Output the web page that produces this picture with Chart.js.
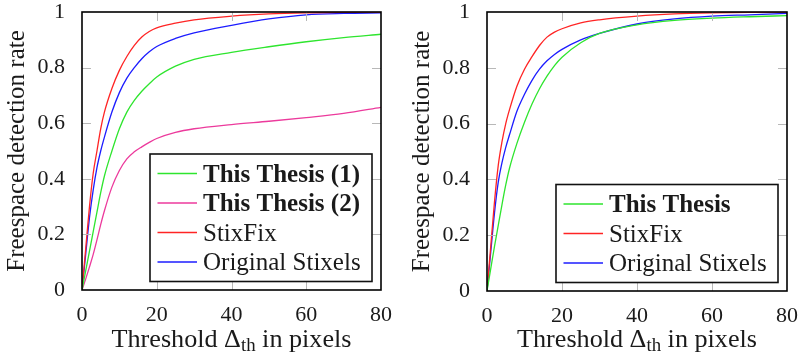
<!DOCTYPE html>
<html><head><meta charset="utf-8">
<script src="https://cdn.jsdelivr.net/npm/chart.js@4.4.1/dist/chart.umd.min.js"></script>
<style>
html,body{margin:0;padding:0;background:#fff;}
#wrap{position:relative;width:799px;height:355px;overflow:hidden;}
canvas{position:absolute;top:0;}
</style></head><body>
<div id="wrap">
<canvas id="c1" width="400" height="355" style="left:0"></canvas>
<canvas id="c2" width="399" height="355" style="left:400px"></canvas>
</div>
<script>
// ---- data ----
const thresholds = [0,1,2,3,4,5,6,8,10,12,14,16,18,20,25,30,40,50,60,70,80];
const xTicks = [0,20,40,60,80];
const yTicks = [0,0.2,0.4,0.6,0.8,1];

const leftThesis1   = [0,0.07,0.14,0.21,0.28,0.35,0.41,0.5,0.58,0.64,0.682,0.715,0.742,0.766,0.805,0.83,0.855,0.875,0.893,0.908,0.92];
const leftThesis2   = [0,0.04,0.083,0.128,0.18,0.235,0.285,0.37,0.43,0.472,0.497,0.515,0.531,0.545,0.567,0.58,0.595,0.607,0.62,0.635,0.657];
const leftStixFix   = [0,0.15,0.3,0.42,0.5,0.58,0.64,0.725,0.79,0.84,0.88,0.91,0.93,0.943,0.96,0.972,0.985,0.993,0.997,0.999,1.0];
const leftOriginal  = [0,0.13,0.26,0.36,0.44,0.5,0.55,0.64,0.71,0.762,0.8,0.832,0.857,0.876,0.905,0.925,0.952,0.975,0.99,0.995,0.997];

const rightThesis   = [0,0.08,0.16,0.235,0.31,0.38,0.44,0.53,0.605,0.67,0.725,0.77,0.808,0.838,0.89,0.923,0.954,0.97,0.978,0.983,0.987];
const rightStixFix  = [0,0.16,0.32,0.45,0.535,0.6,0.65,0.735,0.795,0.84,0.88,0.91,0.928,0.94,0.961,0.972,0.985,0.993,0.997,0.999,1.0];
const rightOriginal = [0,0.14,0.28,0.39,0.46,0.515,0.56,0.645,0.705,0.755,0.795,0.825,0.848,0.866,0.9,0.923,0.957,0.975,0.985,0.99,0.995];

const labelsLeft  = ['This Thesis (1)','This Thesis (2)','StixFix','Original Stixels'];
const labelsRight = ['This Thesis','StixFix','Original Stixels'];

// ---- style ----
const GREEN='#2ee52e', PINK='#ec3a9c', RED='#ff2424', BLUE='#1c1cff';
const FONT='"Liberation Serif", "Times New Roman", serif';
const TXT='#1a1a1a';

function ds(label, data, color, bold){
  return {label, data: thresholds.map((t,i)=>({x:t,y:data[i]})), borderColor:color, backgroundColor:color,
    borderWidth:1.3, pointRadius:0, fill:false, tension:0.4, cubicInterpolationMode:'monotone', bold:!!bold};
}

function line(ctx,x1,y1,x2,y2){ctx.beginPath();ctx.moveTo(x1,y1);ctx.lineTo(x2,y2);ctx.stroke();}

const deco = {
  id:'deco',
  afterDatasetsDraw(chart){
    const {ctx, chartArea:a, scales:{x,y}} = chart;
    ctx.save();
    // inward ticks on all four sides
    ctx.strokeStyle='#b8b8b8'; ctx.lineWidth=1;
    x.ticks.forEach(t=>{ if(t.value<=x.min||t.value>=x.max) return;
      const px=Math.round(x.getPixelForValue(t.value))+0.5;
      line(ctx,px,a.bottom,px,a.bottom-9); line(ctx,px,a.top,px,a.top+9);});
    y.ticks.forEach(t=>{ if(t.value<=y.min||t.value>=y.max) return;
      const py=Math.round(y.getPixelForValue(t.value))+0.5;
      line(ctx,a.left,py,a.left+9,py); line(ctx,a.right,py,a.right-9,py);});
    // frame
    ctx.strokeStyle='#000'; ctx.lineWidth=1.6;
    ctx.strokeRect(a.left,a.top,a.right-a.left,a.bottom-a.top);
    // legend
    const n=chart.data.datasets.length, rowH=29.5;
    const bw=222, bh=n*rowH+9.5;
    const bx=a.right-9-bw, by=a.bottom-8.5-bh;
    ctx.fillStyle='#fff'; ctx.fillRect(bx,by,bw,bh);
    ctx.strokeStyle='#111'; ctx.lineWidth=1.6; ctx.strokeRect(bx,by,bw,bh);
    chart.data.datasets.forEach((d,i)=>{
      const cy=by+19.5+i*rowH;
      ctx.strokeStyle=d.borderColor; ctx.lineWidth=1.4;
      line(ctx,bx+7.5,cy,bx+47,cy);
      ctx.fillStyle=TXT; ctx.textBaseline='alphabetic'; ctx.textAlign='left';
      ctx.font=(d.bold?'bold ':'')+'25px '+FONT;
      ctx.fillText(d.label,bx+53,cy+8);
    });
    // x title with subscript, fitted to the reference width
    const f1='25px '+FONT, f2='18px '+FONT;
    const p1='Threshold \u0394', p2='th', p3=' in pixels';
    ctx.font=f1; const w1=ctx.measureText(p1).width, w3=ctx.measureText(p3).width;
    ctx.font=f2; const w2=ctx.measureText(p2).width;
    const W=w1+w2+w3, k=240/W;
    ctx.save();
    ctx.translate((a.left+a.right)/2,347); ctx.scale(k,1);
    let sx=-W/2;
    ctx.fillStyle=TXT; ctx.textBaseline='alphabetic'; ctx.textAlign='left';
    ctx.font=f1; ctx.fillText(p1,sx,0); sx+=w1;
    ctx.font=f2; ctx.fillText(p2,sx,4); sx+=w2;
    ctx.font=f1; ctx.fillText(p3,sx,0);
    ctx.restore();
    // y title
    ctx.translate(a.left-65.7,(a.top+a.bottom)/2); ctx.rotate(-Math.PI/2);
    ctx.font='25px '+FONT; ctx.textAlign='center'; ctx.textBaseline='alphabetic';
    ctx.fillStyle=TXT;
    ctx.fillText('Freespace detection rate',0,8);
    ctx.restore();
  }
};

function makeChart(id, datasets, yw, pr, xh){
  return new Chart(document.getElementById(id), {
    type:'line',
    data:{datasets},
    options:{
      responsive:false, animation:false, devicePixelRatio:1,
      layout:{padding:{top:12,right:pr,bottom:0,left:0}},
      plugins:{legend:{display:false}, tooltip:{enabled:false}},
      scales:{
        x:{type:'linear', min:0, max:80,
           afterBuildTicks:s=>{s.ticks=xTicks.map(v=>({value:v}));},
           afterFit:s=>{s.height=xh; s.paddingLeft=0; s.paddingRight=0;},
           grid:{display:false}, border:{display:false},
           ticks:{color:TXT, font:{family:FONT,size:22}, padding:4, maxRotation:0}},
        y:{type:'linear', min:0, max:1,
           afterBuildTicks:s=>{s.ticks=yTicks.map(v=>({value:v}));},
           afterFit:s=>{s.width=yw; s.paddingTop=0; s.paddingBottom=0;},
           grid:{display:false}, border:{display:false},
           ticks:{color:TXT, font:{family:FONT,size:22}, padding:9, callback:v=>String(+v.toFixed(1))}}
      }
    },
    plugins:[deco]
  });
}

makeChart('c1', [
  ds(labelsLeft[0], leftThesis1, GREEN, true),
  ds(labelsLeft[1], leftThesis2, PINK, true),
  ds(labelsLeft[2], leftStixFix, RED),
  ds(labelsLeft[3], leftOriginal, BLUE)
], 82, 19, 65);

makeChart('c2', [
  ds(labelsRight[0], rightThesis, GREEN, true),
  ds(labelsRight[1], rightStixFix, RED),
  ds(labelsRight[2], rightOriginal, BLUE)
], 87, 12, 64);
</script>
</body></html>
